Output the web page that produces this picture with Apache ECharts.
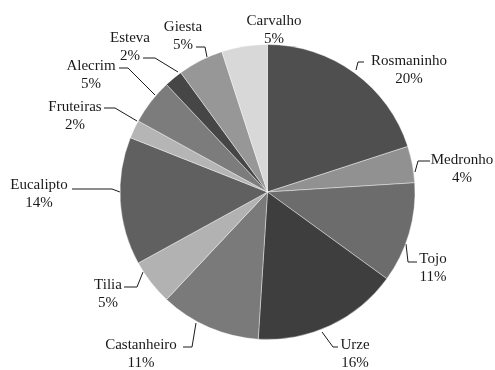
<!DOCTYPE html>
<html><head><meta charset="utf-8">
<script src="https://cdn.jsdelivr.net/npm/echarts@6/dist/echarts.min.js"></script>
<style>html,body{margin:0;padding:0;background:#fff}#c{width:495px;height:370px}</style>
</head><body><div id="c"></div>
<script>
const categories = ['Rosmaninho','Medronho','Tojo','Urze','Castanheiro','Tilia','Eucalipto','Fruteiras','Alecrim','Esteva','Giesta','Carvalho'];
const values = [20,4,11,16,11,5,14,2,5,2,5,5];
const colors = ['#4f4f4f','#919191','#6c6c6c','#3e3e3e','#7a7a7a','#b2b2b2','#606060','#b5b5b5','#7c7c7c','#464646','#979797','#d8d8d8'];
// label block centre positions (px) for each slice label
const labelX = [409,462,433,355,141,108,39,75,91,130,183,274];
const labelY = [70,169,268,354,354,294,194,116,75,47,36,30];
// leader-line paths for each label (annotation layout)
const leaderLines = [
  [[356,70],[358,62],[364,62]],
  [[415,172],[418,161],[430,161]],
  [[406,244],[408,262],[417,262]],
  [[322,332],[333,347],[338,347]],
  [[196,323],[192,347],[183,347]],
  [[143,272],[137,287],[124,287]],
  [[120,192],[112,189],[72,189]],
  [[137,121],[115,108],[104,108]],
  [[155,95],[128,68],[119,68]],
  [[178,72],[155,58],[143,58]],
  [[207,57],[205,47],[196,47]],
  null
];

const chart = echarts.init(document.getElementById('c'));
chart.setOption({
  animation:false,
  backgroundColor:'#fff',
  series:[{
    type:'pie',
    center:[267.5,192],
    radius:[0,147.5],
    startAngle:90,
    clockwise:true,
    avoidLabelOverlap:false,
    data: categories.map((n,i)=>({name:n,value:values[i],itemStyle:{color:colors[i]},
      labelLine:{show: leaderLines[i]!==null}})),
    itemStyle:{borderColor:'#ffffff',borderWidth:0.4},
    label:{
      show:true,position:'outside',overflow:'none',
      formatter:p=>p.name+'\n'+Math.round(p.percent)+'%',
      fontFamily:"'Liberation Serif', 'Times New Roman', serif",fontSize:15,color:'#1a1a1a',lineHeight:18,align:'center'
    },
    labelLine:{show:true,length:8,length2:8,lineStyle:{color:'#1a1a1a',width:1}},
    labelLayout:function(params){
      const i=params.dataIndex;
      const o={x:labelX[i],y:labelY[i],align:'center',verticalAlign:'middle'};
      if(leaderLines[i]) o.labelLinePoints=leaderLines[i];
      return o;
    }
  }]
});
</script></body></html>
